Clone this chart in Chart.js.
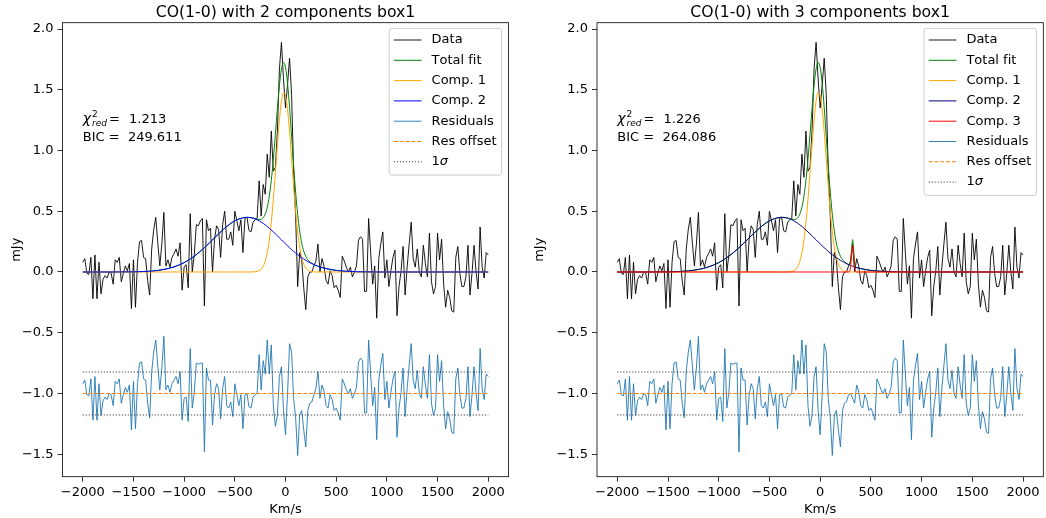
<!DOCTYPE html>
<html>
<head>
<meta charset="utf-8">
<script src="https://cdn.jsdelivr.net/npm/chart.js@4.4.0/dist/chart.umd.min.js"></script>
<style>
  html, body { margin: 0; padding: 0; background: #fff; }
  canvas { position: absolute; top: 0; }
  #left { left: 0; }
  #right { left: 523px; }
</style>
</head>
<body>
<canvas id="left" width="523" height="518"></canvas>
<canvas id="right" width="523" height="518"></canvas>
<script>
// channel velocities (km/s)
const velocity = [
  -2000,-1980,-1960,-1940,-1920,-1900,-1880,-1860,-1840,-1820,
  -1800,-1780,-1760,-1740,-1720,-1700,-1680,-1660,-1640,-1620,
  -1600,-1580,-1560,-1540,-1520,-1500,-1480,-1460,-1440,-1420,
  -1400,-1380,-1360,-1340,-1320,-1300,-1280,-1260,-1240,-1220,
  -1200,-1180,-1160,-1140,-1120,-1100,-1080,-1060,-1040,-1020,
  -1000,-980,-960,-940,-920,-900,-880,-860,-840,-820,
  -800,-780,-760,-740,-720,-700,-680,-660,-640,-620,
  -600,-580,-560,-540,-520,-500,-480,-460,-440,-420,
  -400,-380,-360,-340,-320,-300,-280,-260,-240,-220,
  -200,-180,-160,-140,-120,-100,-80,-60,-40,-20,
  0,20,40,60,80,100,120,140,160,180,
  200,220,240,260,280,300,320,340,360,380,
  400,420,440,460,480,500,520,540,560,580,
  600,620,640,660,680,700,720,740,760,780,
  800,820,840,860,880,900,920,940,960,980,
  1000,1020,1040,1060,1080,1100,1120,1140,1160,1180,
  1200,1220,1240,1260,1280,1300,1320,1340,1360,1380,
  1400,1420,1440,1460,1480,1500,1520,1540,1560,1580,
  1600,1620,1640,1660,1680,1700,1720,1740,1760,1780,
  1800,1820,1840,1860,1880,1900,1920,1940,1960,1980,
  2000
];

// observed spectrum (mJy)
const flux = [
  0.08,0.11,-0.01,-0.02,0.12,-0.22,0.14,-0.22,0.08,-0.18,
  -0.06,-0.03,-0.05,0.00,-0.01,-0.10,0.10,0.08,0.12,-0.08,
  -0.01,0.05,0.01,0.07,-0.30,0.10,-0.29,0.08,0.25,0.26,
  0.12,0.11,-0.07,-0.19,0.19,0.35,0.45,0.24,0.05,0.23,
  0.49,0.05,0.10,0.04,0.12,0.15,0.19,0.13,0.24,-0.15,
  0.04,0.06,-0.13,0.48,0.00,0.14,0.39,0.38,0.42,0.44,
  -0.28,0.43,0.34,0.36,0.00,0.27,0.38,0.35,0.12,0.39,
  0.50,0.27,0.27,0.33,0.22,0.50,0.42,0.34,0.43,0.16,
  0.44,0.45,0.34,0.33,0.41,0.43,0.44,0.75,0.46,0.72,
  0.64,0.97,0.78,1.16,0.83,0.86,1.16,1.67,1.89,1.59,
  1.35,1.54,1.76,1.46,0.84,0.46,-0.12,0.16,0.10,-0.13,
  -0.31,-0.04,0.00,0.00,0.05,0.09,0.23,0.00,0.11,0.05,
  -0.07,-0.10,0.01,-0.03,-0.13,-0.11,-0.15,-0.21,0.13,0.09,
  0.04,0.00,0.04,-0.04,0.00,0.05,0.26,0.29,0.27,-0.16,
  -0.16,0.44,0.16,-0.10,0.05,-0.38,0.11,0.23,0.33,-0.05,
  0.10,-0.12,0.01,0.12,0.18,-0.36,-0.12,0.01,0.21,-0.19,
  0.04,0.23,0.41,0.11,0.04,0.19,0.00,-0.04,0.22,0.07,
  -0.04,0.32,-0.08,-0.18,-0.12,0.32,0.10,0.27,-0.10,-0.29,
  -0.15,-0.21,-0.32,-0.33,0.12,0.21,-0.01,-0.12,-0.12,-0.04,
  0.22,-0.19,-0.01,0.22,0.00,-0.14,0.37,0.04,-0.05,0.16,
  0.14
];

// residuals shifted to the offset level, 2-component fit
const residuals2 = [
  -0.92,-0.89,-1.01,-1.02,-0.88,-1.22,-0.86,-1.22,-0.92,-1.18,
  -1.06,-1.03,-1.05,-1.00,-1.01,-1.10,-0.90,-0.92,-0.88,-1.08,
  -1.01,-0.95,-0.99,-0.93,-1.30,-0.90,-1.29,-0.92,-0.75,-0.74,
  -0.88,-0.89,-1.08,-1.20,-0.82,-0.66,-0.56,-0.77,-0.97,-0.79,
  -0.53,-0.97,-0.93,-0.99,-0.92,-0.89,-0.86,-0.92,-0.82,-1.22,
  -1.04,-1.03,-1.23,-0.63,-1.12,-0.99,-0.75,-0.76,-0.75,-0.75,
  -1.48,-0.79,-0.89,-0.89,-1.26,-1.01,-0.92,-0.96,-1.21,-0.96,
  -0.86,-1.10,-1.12,-1.07,-1.19,-0.92,-1.01,-1.10,-1.01,-1.29,
  -1.01,-1.00,-1.11,-1.12,-1.03,-1.01,-1.00,-0.68,-0.97,-0.73,
  -0.84,-0.56,-0.84,-0.60,-1.10,-1.27,-1.18,-0.86,-0.78,-1.14,
  -1.34,-1.01,-0.59,-0.66,-1.04,-1.20,-1.51,-1.18,-1.14,-1.30,
  -1.44,-1.14,-1.08,-1.07,-1.01,-0.96,-0.82,-1.04,-0.93,-0.98,
  -1.10,-1.12,-1.01,-1.05,-1.14,-1.12,-1.16,-1.22,-0.88,-0.92,
  -0.97,-1.00,-0.96,-1.04,-1.00,-0.95,-0.74,-0.71,-0.73,-1.16,
  -1.16,-0.56,-0.84,-1.10,-0.95,-1.38,-0.89,-0.77,-0.67,-1.05,
  -0.90,-1.12,-0.99,-0.88,-0.82,-1.36,-1.12,-0.99,-0.79,-1.19,
  -0.96,-0.77,-0.59,-0.89,-0.96,-0.81,-1.00,-1.04,-0.78,-0.93,
  -1.04,-0.68,-1.08,-1.18,-1.12,-0.68,-0.90,-0.73,-1.10,-1.29,
  -1.15,-1.21,-1.32,-1.33,-0.88,-0.79,-1.01,-1.12,-1.12,-1.04,
  -0.78,-1.19,-1.01,-0.78,-1.00,-1.14,-0.63,-0.96,-1.05,-0.84,
  -0.86
];

// residuals shifted to the offset level, 3-component fit
const residuals3 = [
  -0.92,-0.89,-1.01,-1.02,-0.88,-1.22,-0.86,-1.22,-0.92,-1.18,
  -1.06,-1.03,-1.05,-1.00,-1.01,-1.10,-0.90,-0.92,-0.88,-1.08,
  -1.01,-0.95,-0.99,-0.93,-1.30,-0.90,-1.29,-0.92,-0.75,-0.74,
  -0.88,-0.89,-1.08,-1.20,-0.82,-0.66,-0.56,-0.77,-0.97,-0.79,
  -0.53,-0.97,-0.93,-0.99,-0.92,-0.89,-0.86,-0.92,-0.82,-1.22,
  -1.04,-1.03,-1.23,-0.63,-1.12,-0.99,-0.75,-0.76,-0.75,-0.75,
  -1.48,-0.79,-0.89,-0.89,-1.26,-1.01,-0.92,-0.96,-1.21,-0.96,
  -0.86,-1.10,-1.12,-1.07,-1.19,-0.92,-1.01,-1.10,-1.01,-1.29,
  -1.01,-1.00,-1.11,-1.12,-1.03,-1.01,-1.00,-0.68,-0.97,-0.73,
  -0.84,-0.56,-0.84,-0.60,-1.10,-1.27,-1.18,-0.86,-0.78,-1.14,
  -1.34,-1.01,-0.59,-0.66,-1.04,-1.20,-1.51,-1.18,-1.14,-1.30,
  -1.44,-1.14,-1.08,-1.07,-1.01,-1.00,-1.04,-1.08,-0.93,-0.98,
  -1.10,-1.12,-1.01,-1.05,-1.14,-1.12,-1.16,-1.22,-0.88,-0.92,
  -0.97,-1.00,-0.96,-1.04,-1.00,-0.95,-0.74,-0.71,-0.73,-1.16,
  -1.16,-0.56,-0.84,-1.10,-0.95,-1.38,-0.89,-0.77,-0.67,-1.05,
  -0.90,-1.12,-0.99,-0.88,-0.82,-1.36,-1.12,-0.99,-0.79,-1.19,
  -0.96,-0.77,-0.59,-0.89,-0.96,-0.81,-1.00,-1.04,-0.78,-0.93,
  -1.04,-0.68,-1.08,-1.18,-1.12,-0.68,-0.90,-0.73,-1.10,-1.29,
  -1.15,-1.21,-1.32,-1.33,-0.88,-0.79,-1.01,-1.12,-1.12,-1.04,
  -0.78,-1.19,-1.01,-0.78,-1.00,-1.14,-0.63,-0.96,-1.05,-0.84,
  -0.86
];

// model grid for the fitted curves
const fitVelocity = [
  -2000,-1700,-1600,-1500,-1400,-1300,-1200,-1100,-1000,-900,-800,-700,-600,-500,-400,
  -380,-360,-340,-320,-300,-280,-260,-240,-220,-200,-180,-160,-140,-120,-100,-80,-60,-40,-20,
  0,20,40,60,80,100,120,140,160,180,200,220,240,260,280,
  290,300,310,320,330,340,350,360,
  380,400,
  500,600,700,800,900,1000,1200,2000
];
const comp1 = [
  0,0,0,0,0,0,0,0,0,0,0,0,0,0,0,
  0,0,0,0.001,0.002,0.005,0.011,0.023,0.047,0.089,0.158,0.263,0.41,0.598,0.817,1.046,1.253,1.406,1.477,
  1.453,1.338,1.154,0.932,0.705,0.499,0.331,0.206,0.119,0.065,0.033,0.016,0.007,0.003,0.001,
  0,0,0,0,0,0,0,0,
  0,0,
  0,0,0,0,0,0,0,0
];
const comp2 = [
  0,0,0.001,0.001,0.004,0.009,0.021,0.042,0.077,0.130,0.200,0.281,0.360,0.421,0.449,
  0.450,0.449,0.447,0.443,0.437,0.430,0.421,0.411,0.400,0.388,0.375,0.360,0.345,0.330,0.314,0.298,0.281,0.265,0.248,
  0.232,0.216,0.200,0.185,0.170,0.156,0.143,0.130,0.118,0.107,0.096,0.086,0.077,0.069,0.061,
  0.057,0.054,0.051,0.047,0.044,0.042,0.039,0.036,
  0.032,0.028,
  0.013,0.006,0.002,0.001,0,0,0,0
];
const comp3 = [
  0,0,0,0,0,0,0,0,0,0,0,0,0,0,0,
  0,0,0,0,0,0,0,0,0,0,0,0,0,0,0,0,0,0,0,
  0,0,0,0,0,0,0,0,0,0,0,0,0,0,0,
  0.005,0.04,0.14,0.22,0.14,0.04,0.005,0,
  0,0,
  0,0,0,0,0,0,0,0
];
const totalFit2 = [
  0,0,0.001,0.001,0.004,0.009,0.021,0.042,0.077,0.130,0.200,0.281,0.360,0.421,0.449,
  0.450,0.449,0.447,0.444,0.439,0.435,0.432,0.434,0.447,0.477,0.533,0.623,0.755,0.928,1.131,1.344,1.534,1.671,1.725,
  1.685,1.554,1.354,1.117,0.875,0.655,0.474,0.336,0.237,0.172,0.129,0.102,0.084,0.072,0.062,
  0.057,0.054,0.051,0.047,0.044,0.042,0.039,0.036,
  0.032,0.028,
  0.013,0.006,0.002,0.001,0,0,0,0
];
const totalFit3 = [
  0,0,0.001,0.001,0.004,0.009,0.021,0.042,0.077,0.130,0.200,0.281,0.360,0.421,0.449,
  0.450,0.449,0.447,0.444,0.439,0.435,0.432,0.434,0.447,0.477,0.533,0.623,0.755,0.928,1.131,1.344,1.534,1.671,1.725,
  1.685,1.554,1.354,1.117,0.875,0.655,0.474,0.336,0.237,0.172,0.129,0.102,0.084,0.072,0.062,
  0.062,0.094,0.191,0.267,0.184,0.082,0.044,0.036,
  0.032,0.028,
  0.013,0.006,0.002,0.001,0,0,0,0
];

const lineEnds = [-2000, 2000];
const resOffset = [-1.0, -1.0];
const sigmaHigh = [-0.823, -0.823];
const sigmaLow = [-1.177, -1.177];

const xTicks = [-2000, -1500, -1000, -500, 0, 500, 1000, 1500, 2000];
const yTicks = [-1.5, -1.0, -0.5, 0.0, 0.5, 1.0, 1.5, 2.0];

const FONT = "'DejaVu Sans'";
Chart.defaults.font.family = FONT;
Chart.defaults.color = '#000';

function serie(label, xs, ys, color, opts) {
  opts = opts || {};
  return {
    label: label,
    data: xs.map((x, i) => ({ x: x, y: ys[i] })),
    borderColor: color,
    borderWidth: opts.width || 1,
    borderDash: opts.dash || [],
    pointRadius: 0,
    fill: false,
    tension: 0,
    cubicInterpolationMode: opts.smooth ? 'monotone' : 'default'
  };
}

function minus(s) {
  return String(s).replace('-', '\u2212');
}

function drawLabel(ctx, text, x, y) {
  // "σ" is drawn in italic like matplotlib mathtext
  let cx = x;
  for (const ch of text) {
    ctx.font = (ch === 'σ' ? 'italic ' : '') + '13px ' + FONT;
    ctx.fillText(ch, cx, y);
    cx += ctx.measureText(ch).width;
  }
  return cx - x;
}

function labelWidth(ctx, text) {
  let w = 0;
  for (const ch of text) {
    ctx.font = (ch === 'σ' ? 'italic ' : '') + '13px ' + FONT;
    w += ctx.measureText(ch).width;
  }
  return w;
}

const framePlugin = {
  id: 'frame',
  afterDatasetsDraw(chart) {
    const a = chart.chartArea, ctx = chart.ctx;
    ctx.save();
    ctx.strokeStyle = '#000';
    ctx.lineWidth = 0.8;
    ctx.strokeRect(a.left, a.top, a.right - a.left, a.bottom - a.top);
    ctx.restore();
  }
};

function titlePlugin(text) {
  return {
    id: 'panelTitle',
    afterDraw(chart) {
      const a = chart.chartArea, ctx = chart.ctx;
      ctx.save();
      ctx.font = '15.7px ' + FONT;
      ctx.fillStyle = '#000';
      ctx.textAlign = 'center';
      ctx.textBaseline = 'alphabetic';
      ctx.fillText(text, (a.left + a.right) / 2, a.top - 5.6);
      ctx.restore();
    }
  };
}

function statsPlugin(chi, bic) {
  return {
    id: 'stats',
    afterDatasetsDraw(chart) {
      const ctx = chart.ctx;
      const x = chart.scales.x.getPixelForValue(-2000);
      const y1 = chart.scales.y.getPixelForValue(1.224);
      const y2 = chart.scales.y.getPixelForValue(1.078);
      ctx.save();
      ctx.fillStyle = '#000';
      ctx.textBaseline = 'alphabetic';
      ctx.textAlign = 'left';
      ctx.font = 'italic 14px ' + FONT;
      ctx.fillText('χ', x, y1);
      const w = ctx.measureText('χ').width;
      ctx.font = '9px ' + FONT;
      ctx.fillText('2', x + w + 1, y1 - 6);
      ctx.font = 'italic 9px ' + FONT;
      ctx.fillText('red', x + w + 1, y1 + 2.5);
      const w2 = ctx.measureText('red').width;
      ctx.font = '13px ' + FONT;
      ctx.fillText('=', x + w + w2 + 3, y1);
      ctx.fillText(chi, x + 46.3, y1);
      ctx.fillText('BIC =  ' + bic, x, y2);
      ctx.restore();
    }
  };
}

const legendPlugin = {
  id: 'mplLegend',
  afterDraw(chart) {
    const ctx = chart.ctx, a = chart.chartArea;
    const items = chart.data.datasets.filter(d => d.label && d.label[0] !== '_');
    ctx.save();
    const maxW = Math.max(...items.map(d => labelWidth(ctx, d.label)));
    const rowH = 20.3;
    const w = 42.4 + maxW + 5.2;
    const h = 11.7 + (items.length - 1) * rowH + 13.3;
    const right = a.right - 6.8, top = a.top + 5.6, left = right - w;
    ctx.beginPath();
    ctx.roundRect(left, top, w, h, 2.6);
    ctx.fillStyle = 'rgba(255,255,255,0.8)';
    ctx.fill();
    ctx.strokeStyle = '#cccccc';
    ctx.lineWidth = 1;
    ctx.stroke();
    items.forEach((d, k) => {
      const cy = top + 11.7 + k * rowH;
      ctx.beginPath();
      ctx.setLineDash(d.borderDash || []);
      ctx.strokeStyle = d.borderColor;
      ctx.lineWidth = d.borderWidth;
      ctx.moveTo(left + 4.7, cy);
      ctx.lineTo(left + 32.4, cy);
      ctx.stroke();
      ctx.setLineDash([]);
      ctx.fillStyle = '#000';
      ctx.textBaseline = 'middle';
      ctx.textAlign = 'left';
      drawLabel(ctx, d.label, left + 42.4, cy);
    });
    ctx.restore();
  }
};

function buildPanel(canvasId, title, comps, totalFit, residuals, chi, bic, yWidth, padRight) {
  const datasets = [
    serie('Data', velocity, flux, '#000000', { width: 0.9 }),
    serie('Total fit', fitVelocity, totalFit, '#008000', { smooth: true })
  ];
  comps.forEach(c => datasets.push(serie(c.label, fitVelocity, c.values, c.color, { smooth: true })));
  datasets.push(serie('Residuals', velocity, residuals, '#1f77b4', { width: 0.9 }));
  datasets.push(serie('Res offset', lineEnds, resOffset, '#ff7f0e', { width: 1.1, dash: [4, 1.8] }));
  datasets.push(serie('1σ', lineEnds, sigmaHigh, '#000000', { width: 0.9, dash: [1, 2] }));
  datasets.push(serie('_sigma', lineEnds, sigmaLow, '#000000', { width: 0.9, dash: [1, 2] }));
  // later datasets on top, as in matplotlib
  datasets.forEach((d, i) => { d.order = 100 - i; });

  new Chart(document.getElementById(canvasId), {
    type: 'line',
    data: { datasets: datasets },
    options: {
      responsive: false,
      animation: false,
      devicePixelRatio: 1,
      events: [],
      layout: { padding: { left: 0, right: padRight, top: 22.7, bottom: 0 } },
      plugins: {
        legend: { display: false },
        tooltip: { enabled: false },
        title: { display: false }
      },
      scales: {
        x: {
          type: 'linear',
          min: -2200,
          max: 2200,
          afterBuildTicks: s => { s.ticks = xTicks.map(v => ({ value: v })); },
          afterFit: s => { s.height = 41.3; },
          ticks: {
            callback: v => minus(v),
            font: { size: 13 },
            color: '#000',
            padding: 3,
            maxRotation: 0,
            autoSkip: false
          },
          grid: { drawOnChartArea: false, drawTicks: true, tickLength: 5, color: '#000', lineWidth: 0.8 },
          border: { display: false },
          title: { display: true, text: 'Km/s', font: { size: 13 }, color: '#000', padding: { top: 0, bottom: 0.5 } }
        },
        y: {
          min: -1.685,
          max: 2.052,
          afterBuildTicks: s => { s.ticks = yTicks.map(v => ({ value: v })); },
          afterFit: s => { s.width = yWidth; },
          ticks: {
            callback: v => minus(v.toFixed(1)),
            font: { size: 13 },
            color: '#000',
            padding: 4,
            autoSkip: false
          },
          grid: { drawOnChartArea: false, drawTicks: true, tickLength: 5, color: '#000', lineWidth: 0.8 },
          border: { display: false },
          title: { display: true, text: 'mJy', font: { size: 13 }, color: '#000', padding: { top: 8.5, bottom: 0 } }
        }
      }
    },
    plugins: [framePlugin, statsPlugin(chi, bic), titlePlugin(title), legendPlugin]
  });
}

buildPanel('left', 'CO(1-0) with 2 components box1',
  [
    { label: 'Comp. 1', values: comp1, color: '#ffa500' },
    { label: 'Comp. 2', values: comp2, color: '#0000ff' }
  ],
  totalFit2, residuals2, '1.213', '249.611', 62.5, 14.5);

buildPanel('right', 'CO(1-0) with 3 components box1',
  [
    { label: 'Comp. 1', values: comp1, color: '#ffa500' },
    { label: 'Comp. 2', values: comp2, color: '#00008b' },
    { label: 'Comp. 3', values: comp3, color: '#ff0000' }
  ],
  totalFit3, residuals3, '1.226', '264.086', 74, 2.7);
</script>
</body>
</html>
